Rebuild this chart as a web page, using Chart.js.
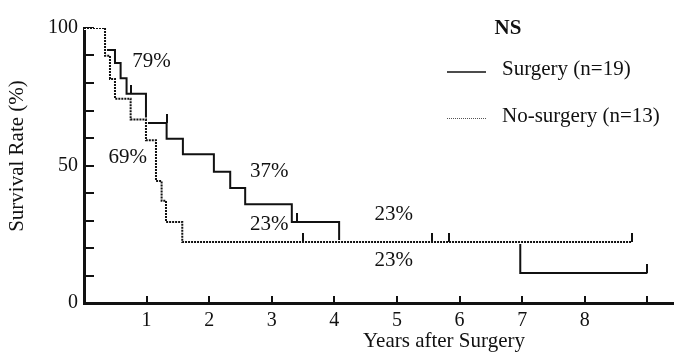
<!DOCTYPE html>
<html>
<head>
<meta charset="utf-8">
<script src="https://cdn.jsdelivr.net/npm/chart.js@4"></script>
<style>
html, body { margin: 0; padding: 0; background: #fff; }
canvas { display: block; }
</style>
</head>
<body>
<canvas id="kmChart" width="675" height="355"></canvas>
<script>
// Survival curves (Kaplan-Meier)
const surgeryYears = [0, 0.336, 0.495, 0.585, 0.68, 0.99, 1.32, 1.58, 2.075, 2.336, 2.575, 3.32, 4.076, 6.97, 9.0];
const surgeryRates = [100, 92.0, 87.3, 81.7, 76.1, 65.5, 59.7, 54.1, 47.7, 41.8, 35.9, 29.5, 22.2, 10.9, 10.9];
const noSurgeryYears = [0, 0.336, 0.415, 0.495, 0.745, 0.99, 1.15, 1.24, 1.31, 1.57, 8.755];
const noSurgeryRates = [100, 89.9, 81.5, 74.3, 66.7, 59.2, 44.4, 37.2, 29.5, 22.2, 22.2];

// censored cases
const surgeryCensorYears = [0.745, 1.32, 3.41, 5.56, 5.83, 9.0];
const surgeryCensorRates = [76.1, 65.5, 29.5, 22.2, 22.2, 10.9];
const noSurgeryCensorYears = [3.50, 8.755];
const noSurgeryCensorRates = [22.2, 22.2];

const seriesNames = ['Surgery (n=19)', 'No-surgery (n=13)'];
const xTickLabels = ['1', '2', '3', '4', '5', '6', '7', '8'];
const yTickLabels = [0, 50, 100];
const rateLabels = ['79%', '69%', '37%', '23%', '23%', '23%'];

const INK = '#111';
const FONT = '"Liberation Serif", "Times New Roman", serif';

const toPoints = (xs, ys) => xs.map((x, i) => ({ x: x, y: ys[i] }));

// vertical censor tick that stands on the curve
function censorMark(h) {
  const c = document.createElement('canvas');
  c.width = 2;
  c.height = h * 2;
  const g = c.getContext('2d');
  g.fillStyle = INK;
  g.fillRect(0, 0, 2, h);
  return c;
}
const tick = censorMark(9);

const noSurgeryPts = toPoints(noSurgeryYears, noSurgeryRates);

// text around the plot
const textPlugin = {
  id: 'kmText',
  afterDraw(chart) {
    const ctx = chart.ctx;
    const xs = chart.scales.x, ys = chart.scales.y;
    ctx.save();
    ctx.fillStyle = INK;
    ctx.textBaseline = 'middle';
    ctx.textAlign = 'center';
    ctx.font = '21px ' + FONT;

    const spots = [[1.08, 87.8], [0.70, 53.0], [2.96, 47.7], [2.96, 28.6], [4.95, 32.1], [4.95, 15.6]];
    rateLabels.forEach((t, i) => {
      ctx.fillText(t, xs.getPixelForValue(spots[i][0]), ys.getPixelForValue(spots[i][1]));
    });

    // axis titles
    ctx.fillText('Years after Surgery', 444, 341);
    ctx.save();
    ctx.translate(17, 156);
    ctx.rotate(-Math.PI / 2);
    ctx.fillText('Survival Rate (%)', 0, 0);
    ctx.restore();

    // legend
    ctx.font = 'bold 21px ' + FONT;
    ctx.fillText('NS', 508, 29);
    ctx.font = '21px ' + FONT;
    ctx.textAlign = 'left';
    ctx.fillText(seriesNames[0], 502, 69);
    ctx.fillText(seriesNames[1], 502, 116);

    ctx.strokeStyle = INK;
    ctx.lineWidth = 1.5;
    ctx.beginPath();
    ctx.moveTo(447, 72);
    ctx.lineTo(486, 72);
    ctx.stroke();
    ctx.strokeStyle = '#555';
    ctx.lineWidth = 1;
    ctx.setLineDash([1, 1]);
    ctx.beginPath();
    ctx.moveTo(447, 118.5);
    ctx.lineTo(486, 118.5);
    ctx.stroke();
    ctx.restore();
  }
};

const config = {
  type: 'line',
  data: {
    datasets: [
      {
        label: 'censored',
        data: toPoints(surgeryCensorYears, surgeryCensorRates).concat(toPoints(noSurgeryCensorYears, noSurgeryCensorRates)),
        showLine: false,
        pointStyle: tick,
        pointRadius: 1,
        pointHoverRadius: 1
      },
      {
        label: seriesNames[1],
        data: noSurgeryPts,
        stepped: true,
        borderColor: INK,
        borderWidth: 2,
        borderDash: [2, 1],
        pointRadius: 0,
        fill: false
      },
      {
        // white underlay so the dotted curve shows where both curves coincide
        label: 'mask',
        data: noSurgeryPts,
        stepped: true,
        borderColor: '#fff',
        borderWidth: 4,
        pointRadius: 0,
        fill: false
      },
      {
        label: seriesNames[0],
        data: toPoints(surgeryYears, surgeryRates),
        stepped: true,
        borderColor: INK,
        borderWidth: 2,
        pointRadius: 0,
        fill: false
      }
    ]
  },
  options: {
    responsive: false,
    animation: false,
    events: [],
    layout: { padding: { top: 24, left: 0, right: 0, bottom: 0 } },
    plugins: {
      legend: { display: false },
      tooltip: { enabled: false }
    },
    scales: {
      x: {
        type: 'linear',
        min: 0,
        max: 9.41,
        border: { color: INK, width: 3 },
        grid: { drawOnChartArea: false, color: INK, lineWidth: 2, tickLength: -7 },
        ticks: {
          stepSize: 1,
          includeBounds: false,
          autoSkip: false,
          maxRotation: 0,
          padding: 13,
          color: INK,
          font: { family: FONT, size: 20 },
          callback: v => xTickLabels[v - 1] || ''
        },
        afterFit: s => { s.height = 52; }
      },
      y: {
        min: 0,
        max: 100,
        border: { color: INK, width: 3 },
        grid: { drawOnChartArea: false, color: INK, lineWidth: 2, tickLength: -10 },
        ticks: {
          stepSize: 10,
          padding: 16,
          color: INK,
          font: { family: FONT, size: 20 },
          callback: v => yTickLabels.includes(v) ? String(v) : ''
        },
        afterFit: s => { s.width = 84; }
      }
    }
  },
  plugins: [textPlugin]
};

var kmChart = new Chart(document.getElementById('kmChart'), config);
</script>
</body>
</html>
